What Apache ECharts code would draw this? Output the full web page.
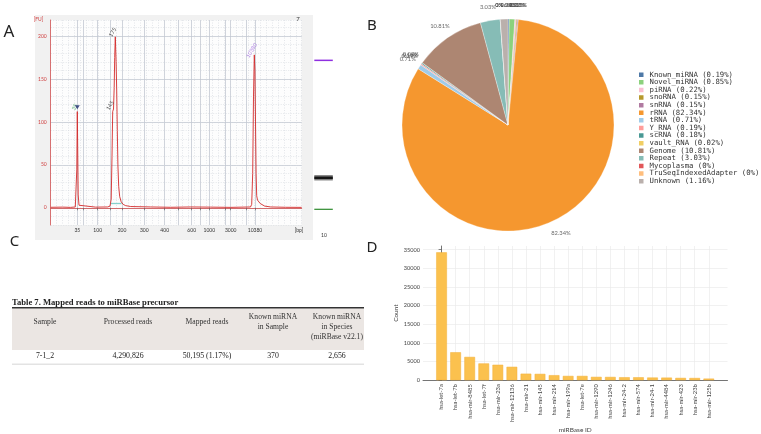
<!DOCTYPE html>
<html><head><meta charset="utf-8">
<script src="https://cdn.jsdelivr.net/npm/echarts@6/dist/echarts.min.js"></script>
<style>html,body{margin:0;padding:0;background:#fff}#c{width:761px;height:434px}</style>
</head><body><div id="c"></div>
<script>
// ---------- Panel A : electropherogram (migration units, FU) ----------
const ladderBp    = ['35','50','100','150','200','300','400','500','600','700','1000','2000','3000','7000','10380'];
const ladderPos   = [26.6,32.3,47,59.3,71.3,93.6,114,127.6,141,149.3,158.6,174.3,180,196,204.3];
const ladderShown = ['35','100','200','300','400','600','1000','3000','10380'];
const fuTicks     = [0,50,100,150,200];
const traceX  = [0,12,20,24.6,25.6,26.1,26.6,27.0,27.5,28.3,30,45,57,59.3,60.5,61.3,62.0,62.8,63.5,64.0,64.6,65.4,66.0,66.6,67.2,68.0,69.0,70.5,72.5,75,80,100,120,140,160,180,199.8,201,202,202.8,203.6,204.2,204.8,205.4,206.0,206.8,207.6,208.4,209.5,211.5,214,220,235,251];
const traceFU = [0.6,0.8,0.5,1,3,45,112,70,15,3,1,0.8,1,2,10,60,112,115,140,175,199,170,137,90,50,25,13,7,4,2.5,1.5,1,0.6,1,0.8,0.5,1,4,40,130,178,160,100,40,14,9,11,8,5,3,2,1,0.6,0.5];
const peakX    = [26.6,62.0,64.6,203.6];
const peakFU   = [112,114,199,178];
const peakText = ['35','145','175','10380'];
const markerX = [26.6], markerFU = [117];
const regionX = [60.3,71], regionFU = 5;

// ---------- Panel B : RNA classes ----------
const rnaClasses = ['Known_miRNA','Novel_miRNA','piRNA','snoRNA','snRNA','rRNA','tRNA','Y_RNA','scRNA','vault_RNA','Genome','Repeat','Mycoplasma','TruSeqIndexedAdapter','Unknown'];
const rnaPct     = [0.19,0.85,0.22,0.15,0.15,82.34,0.71,0.19,0.18,0.02,10.81,3.03,0,0,1.16];
const rnaColors  = ['#4e79a7','#8cd17d','#fabfd2','#b6992d','#b07aa1','#f5972f','#a0cbe8','#ff9d9a','#499894','#f1ce63','#ad8672','#86bcb6','#e15759','#ffbe7d','#bab0ac'];

// ---------- Panel C : table ----------
const tableTitle  = 'Table 7. Mapped reads to miRBase precursor';
const tableHeader = ['Sample','Processed reads','Mapped reads','Known miRNA\nin Sample','Known miRNA\nin Species\n(miRBase v22.1)'];
const tableRow    = ['7-1_2','4,290,826','50,195 (1.17%)','370','2,656'];

// ---------- Panel D : miRBase counts ----------
const mirIds = ['hsa-let-7a','hsa-let-7b','hsa-mir-8485','hsa-let-7f','hsa-mir-23a','hsa-mir-12136','hsa-mir-21','hsa-mir-145','hsa-mir-214','hsa-mir-199a','hsa-let-7e','hsa-mir-1290','hsa-mir-1246','hsa-mir-24-2','hsa-mir-574','hsa-mir-24-1','hsa-mir-4484','hsa-mir-423','hsa-mir-23b','hsa-mir-125b'];
const mirCounts = [34300,7500,6250,4500,4150,3600,1750,1700,1350,1150,1150,900,880,800,790,720,700,620,600,430];
const countTicks = [0,5000,10000,15000,20000,25000,30000,35000];

// ---------- layout ----------
const chart = echarts.init(document.getElementById('c'), null, {renderer:'canvas'});
const shownPos = ladderPos.filter((p,i)=>ladderShown.indexOf(ladderBp[i])>=0);
const bpAt = v => { let best=0; ladderPos.forEach((p,i)=>{ if(Math.abs(p-v)<Math.abs(ladderPos[best]-v)) best=i; }); return ladderBp[best]; };
const peakColors = ['#3aa35a','#222','#222','#a06ae0'];
const colX = [45,128,207,273,337];
const pctTotal = rnaPct.reduce((a,b)=>a+b,0);
let acc = 0;
const pieMid = rnaPct.map(v=>{ const m = acc + v/2; acc += v; return m; });

const txt = (text,x,y,o) => Object.assign({type:'text', silent:true, style:Object.assign({text:text,x:x,y:y,fill:'#222',fontSize:8,fontFamily:'Liberation Serif',align:'center',verticalAlign:'middle'}, o||{})});
const graphics = [
  {type:'rect', z:-10, silent:true, shape:{x:35,y:15,width:278,height:225}, style:{fill:'#f1f1f1'}},
  {type:'rect', z:-9, silent:true, shape:{x:50.7,y:20,width:251,height:205}, style:{fill:'#fdfdfd'}},
  // gel lane
  {type:'rect', silent:true, shape:{x:314.3,y:59.6,width:18.5,height:1.5}, style:{fill:'#8f2fe0'}},
  {type:'rect', silent:true, shape:{x:314.3,y:175,width:18.5,height:5.5}, style:{fill:'#8a8a8a'}},
  {type:'rect', silent:true, shape:{x:314.3,y:176.5,width:18.5,height:2.6}, style:{fill:'#151515'}},
  {type:'rect', silent:true, shape:{x:314.3,y:208.7,width:18.5,height:1.2}, style:{fill:'#2c8a2c'}},
  txt('10',324,235,{fontSize:5,fontFamily:'Lato',fill:'#333'}),
  txt('7',298,19,{fontSize:6,fontFamily:'Lato',fill:'#333'}),
  txt('[FU]',38.5,19,{fontSize:5,fontFamily:'Lato',fill:'#d04040'}),
  txt('[bp]',299,230.5,{fontSize:5,fontFamily:'Lato',fill:'#333'}),
  // panel letters
  txt('A',9,32,{fontSize:17,fontFamily:'Noto Sans',fill:'#222'}),
  txt('B',372,26,{fontSize:15,fontFamily:'Noto Sans',fill:'#222'}),
  txt('C',14.5,242,{fontSize:15,fontFamily:'Noto Sans',fill:'#222'}),
  txt('D',372,248,{fontSize:15,fontFamily:'Noto Sans',fill:'#222'}),
  // table
  txt(tableTitle,12,302.3,{align:'left',fontSize:8.6,fontWeight:'bold',fill:'#222'}),
  {type:'rect', silent:true, shape:{x:12,y:308.2,width:352,height:41.8}, style:{fill:'#ebe6e3'}},
  {type:'rect', silent:true, shape:{x:12,y:307,width:352,height:1.4}, style:{fill:'#333'}},
  {type:'rect', silent:true, shape:{x:12,y:363.8,width:352,height:0.7}, style:{fill:'#c8c8c8'}}
];
tableHeader.forEach((h,i)=>{
  const lines = h.split('\n').length;
  graphics.push(txt(h,colX[i], lines===1?321.7:312.4, {fontSize:7.6,lineHeight:9.7,verticalAlign:lines===1?'middle':'top',fill:'#333'}));
});
tableRow.forEach((v,i)=>graphics.push(txt(v,colX[i],355.7,{fontSize:7.8,fill:'#222'})));

const option = {
  animation:false,
  textStyle:{fontFamily:'Lato'},
  graphic:graphics,
  grid:[
    {left:50.7, top:20, width:251, height:205},
    {left:423, right:33.5, top:246, bottom:52.7}
  ],
  polar:{center:[508,125], radius:120},
  angleAxis:{type:'value', min:0, max:pctTotal, startAngle:90, clockwise:true, show:false},
  radiusAxis:{type:'value', min:0, max:1, show:false},
  xAxis:[
    {gridIndex:0, type:'value', min:0, max:251,
     axisLine:{show:true, lineStyle:{color:'#d05050', width:0.8}},
     axisTick:{show:true, customValues:ladderPos, length:2.5, lineStyle:{color:'#555', width:0.6}},
     axisLabel:{customValues:shownPos, formatter:v=>bpAt(v), fontSize:5, color:'#333', margin:3},
     splitLine:{show:true, lineStyle:{color:'#c3c8d2', width:0.8}}},
    {gridIndex:0, type:'value', min:0, max:251, interval:6, position:'top',
     axisLine:{show:false}, axisTick:{show:false}, axisLabel:{show:false},
     splitLine:{show:true, lineStyle:{color:'#d4d7dd', width:0.6, type:[1,1.5]}}},
    {gridIndex:1, type:'value', min:-1.32, max:20.33,
     axisLine:{show:true, lineStyle:{color:'#555', width:0.8}},
     axisTick:{show:false, customValues:mirIds.map((n,i)=>i)},
     axisLabel:{customValues:mirIds.map((n,i)=>i), formatter:v=>mirIds[Math.round(v)], rotate:90, fontSize:5.8, color:'#444', margin:4},
     splitLine:{show:true, lineStyle:{color:'#ebebeb', width:0.7}},
     name:'miRBase ID', nameLocation:'middle', nameGap:43, nameTextStyle:{fontSize:6.5, color:'#444'}}
  ],
  yAxis:[
    {gridIndex:0, type:'value', min:-20, max:218.6,
     axisLine:{show:true, lineStyle:{color:'#d05050', width:0.8}},
     axisTick:{show:false, customValues:fuTicks},
     axisLabel:{customValues:fuTicks, fontSize:5, color:'#d04040', margin:4},
     splitLine:{show:true, lineStyle:{color:'#c3c8d2', width:0.8}}},
    {gridIndex:0, type:'value', min:-20, max:218.6, interval:10, position:'right',
     axisLine:{show:false}, axisTick:{show:false}, axisLabel:{show:false},
     splitLine:{show:true, lineStyle:{color:'#d4d7dd', width:0.6, type:[1,1.5]}}},
    {gridIndex:1, type:'value', min:0, max:36000,
     axisLine:{show:true, lineStyle:{color:'#555', width:0.8}},
     axisTick:{show:true, customValues:countTicks, length:3, lineStyle:{color:'#555', width:0.7}},
     axisLabel:{customValues:countTicks, formatter:v=>String(v), fontSize:5.6, color:'#444', margin:3},
     splitLine:{show:true, lineStyle:{color:'#ebebeb', width:0.7}},
     name:'Count', nameLocation:'middle', nameGap:21, nameTextStyle:{fontSize:6.5, color:'#444'}}
  ],
  legend:{
    orient:'vertical', left:637, top:70.5, padding:0, icon:'rect', itemWidth:6.5, itemHeight:6.5, itemGap:-0.9,
    selectedMode:false, data:rnaClasses,
    formatter:n=>n+' ('+rnaPct[rnaClasses.indexOf(n)]+'%)',
    textStyle:{fontFamily:'DejaVu Sans Mono', fontSize:7.3, color:'#333', lineHeight:6.5}
  },
  series:[
    {type:'line', xAxisIndex:0, yAxisIndex:0, silent:true, showSymbol:false, symbol:'none',
     lineStyle:{color:'#d42a2a', width:0.9}, z:5,
     data:traceX.map((x,i)=>[x,traceFU[i]]),
     markLine:{silent:true, symbol:'none', label:{show:false}, lineStyle:{color:'#86d0cc', width:1.3, type:'solid'},
       data:[[{coord:[regionX[0],regionFU]},{coord:[regionX[1],regionFU]}]]}},
    {type:'scatter', xAxisIndex:0, yAxisIndex:0, silent:true, symbolSize:0, z:6,
     data:peakX.map((x,i)=>({value:[x,peakFU[i]], label:{color:peakColors[i]}})),
     label:{show:true, position:'top', distance:3, rotate:60, fontSize:5.5, formatter:p=>peakText[p.dataIndex]}},
    {type:'scatter', xAxisIndex:0, yAxisIndex:0, silent:true, symbol:'triangle', symbolRotate:180, symbolSize:[5,4], z:7,
     itemStyle:{color:'#1d2b6e'}, data:markerX.map((x,i)=>[x,markerFU[i]])},
    {type:'pie', center:[508,125], radius:106, startAngle:90, clockwise:true, silent:true, avoidLabelOverlap:false,
     label:{show:false}, labelLine:{show:false}, itemStyle:{borderColor:'#fff', borderWidth:0.3},
     data:rnaClasses.map((n,i)=>({name:n, value:rnaPct[i], itemStyle:{color:rnaColors[i]}}))},
    {type:'scatter', coordinateSystem:'polar', silent:true, symbolSize:1, itemStyle:{color:'rgba(0,0,0,0)'},
     label:{show:true, position:'inside', formatter:p=>rnaPct[p.dataIndex]+'%', fontSize:5.8, color:'#444'},
     labelLayout:{hideOverlap:false},
     data:pieMid.map(m=>[1,m])},
    {type:'bar', xAxisIndex:2, yAxisIndex:2, silent:true, barWidth:10.7,
     itemStyle:{color:'#fbc14e', borderColor:'#f2b13a', borderWidth:0.5},
     data:mirCounts.map((v,i)=>[i,v])}
  ]
};
chart.setOption(option);
</script></body></html>
